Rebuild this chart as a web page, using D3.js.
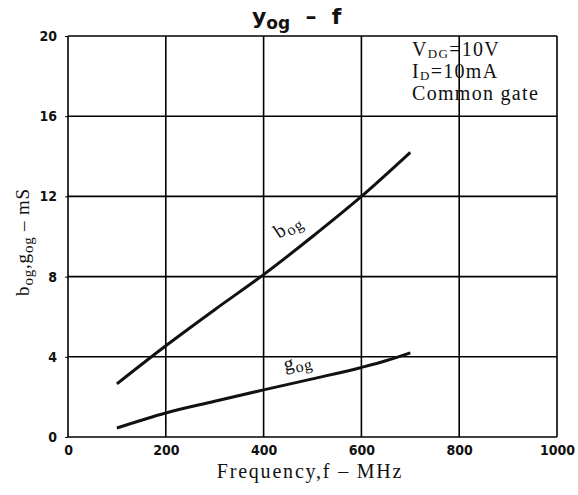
<!DOCTYPE html>
<html><head><meta charset="utf-8">
<script src="https://cdn.jsdelivr.net/npm/d3@7"></script>
<style>body{margin:0;background:#fff;} svg{display:block;}</style>
</head><body>
<svg id="c" width="578" height="495"></svg>
<script>
const xTicks = [0, 200, 400, 600, 800, 1000];
const yTicks = [0, 4, 8, 12, 16, 20];
const bogF = [100, 200, 300, 400, 500, 600, 700];
const bogV = [2.65, 4.55, 6.35, 8.1, 10.0, 12.0, 14.2];
const gogF = [100, 200, 300, 400, 500, 600, 650, 700];
const gogV = [0.45, 1.2, 1.78, 2.35, 2.9, 3.47, 3.8, 4.2];
const notes = ["V|DG|=10V", "I|D|=10mA", "Common gate"];

const svg = d3.select("#c");
const m = {l: 68, r: 557, t: 36, b: 437};
const x = d3.scaleLinear().domain([0, 1000]).range([m.l, m.r]);
const y = d3.scaleLinear().domain([0, 20]).range([m.b, m.t]);

// grid
const g = svg.append("g");
g.selectAll(".vx").data(xTicks).enter().append("line")
  .attr("x1", d => x(d)).attr("x2", d => x(d)).attr("y1", m.t).attr("y2", m.b)
  .attr("stroke", "#000").attr("stroke-width", 1.6);
g.selectAll(".hy").data(yTicks).enter().append("line")
  .attr("y1", d => y(d)).attr("y2", d => y(d)).attr("x1", m.l).attr("x2", m.r)
  .attr("stroke", "#000").attr("stroke-width", 1.6);

// axes labels via d3 axis
const xa = svg.append("g").attr("transform", `translate(0,${m.b})`)
  .call(d3.axisBottom(x).tickValues(xTicks).tickFormat(d3.format("d")).tickSize(0).tickPadding(8));
const ya = svg.append("g").attr("transform", `translate(${m.l},0)`)
  .call(d3.axisLeft(y).tickValues(yTicks).tickFormat(d3.format("d")).tickSize(3).tickPadding(8));
[xa, ya].forEach(a => {
  a.select(".domain").remove();
  a.selectAll("text").attr("font-family", "DejaVu Sans Condensed, DejaVu Sans")
    .attr("font-weight", "bold").attr("font-size", 14).attr("fill", "#111");
  a.selectAll("line").attr("stroke", "#000");
});

// curves
const line = d3.line().x(d => x(d[0])).y(d => y(d[1])).curve(d3.curveMonotoneX);
svg.append("path").datum(bogF.map((f, i) => [f, bogV[i]])).attr("d", line)
  .attr("fill", "none").attr("stroke", "#111").attr("stroke-width", 3);
svg.append("path").datum(gogF.map((f, i) => [f, gogV[i]])).attr("d", line)
  .attr("fill", "none").attr("stroke", "#111").attr("stroke-width", 3);

// curve labels
function sub(t, base, s, x0, y0, rot, size) {
  const tx = t.append("text").attr("transform", `translate(${x0},${y0}) rotate(${rot})`)
    .attr("font-family", "Liberation Serif").attr("font-size", size).attr("fill", "#111")
    .attr("letter-spacing", 0.8);
  tx.append("tspan").text(base);
  tx.append("tspan").attr("dy", 4).attr("font-size", size * 0.8).text(s);
  return tx;
}
sub(svg, "b", "og", 279, 239, -33, 20);
sub(svg, "g", "og", 285, 371, -12, 20);

// title
const tt = svg.append("text").attr("x", 252).attr("y", 24)
  .attr("font-family", "DejaVu Sans").attr("font-weight", "bold").attr("font-size", 22).attr("fill", "#111");
tt.append("tspan").text("y");
tt.append("tspan").attr("dy", 5).attr("font-size", 17).text("og");
tt.append("tspan").attr("dy", -5).attr("xml:space", "preserve").text("  –  f");

// notes
notes.forEach((n, i) => {
  const p = n.split("|");
  const t = svg.append("text").attr("x", 412).attr("y", 56 + i * 22)
    .attr("font-family", "Liberation Serif").attr("font-size", 20).attr("fill", "#111")
    .attr("letter-spacing", 1.3);
  t.append("tspan").text(p[0]);
  if (p.length > 1) {
    t.append("tspan").attr("dy", 2).attr("font-size", 13).text(p[1]);
    t.append("tspan").attr("dy", -2).text(p[2]);
  }
});

// x axis title
svg.append("text").attr("x", 310).attr("y", 478).attr("text-anchor", "middle")
  .attr("font-family", "Liberation Serif").attr("font-size", 20).attr("fill", "#111")
  .attr("letter-spacing", 1.8)
  .text("Frequency,f – MHz");

// y axis title
const yt = svg.append("text").attr("transform", "translate(29,242) rotate(-90)").attr("text-anchor", "middle")
  .attr("font-family", "Liberation Serif").attr("font-size", 19).attr("fill", "#111")
  .attr("letter-spacing", 0.8);
yt.append("tspan").text("b");
yt.append("tspan").attr("dy", 4).attr("font-size", 15).text("og");
yt.append("tspan").attr("dy", -4).text(",g");
yt.append("tspan").attr("dy", 4).attr("font-size", 15).text("og");
yt.append("tspan").attr("dy", -4).text(" – mS");
</script>
</body></html>
